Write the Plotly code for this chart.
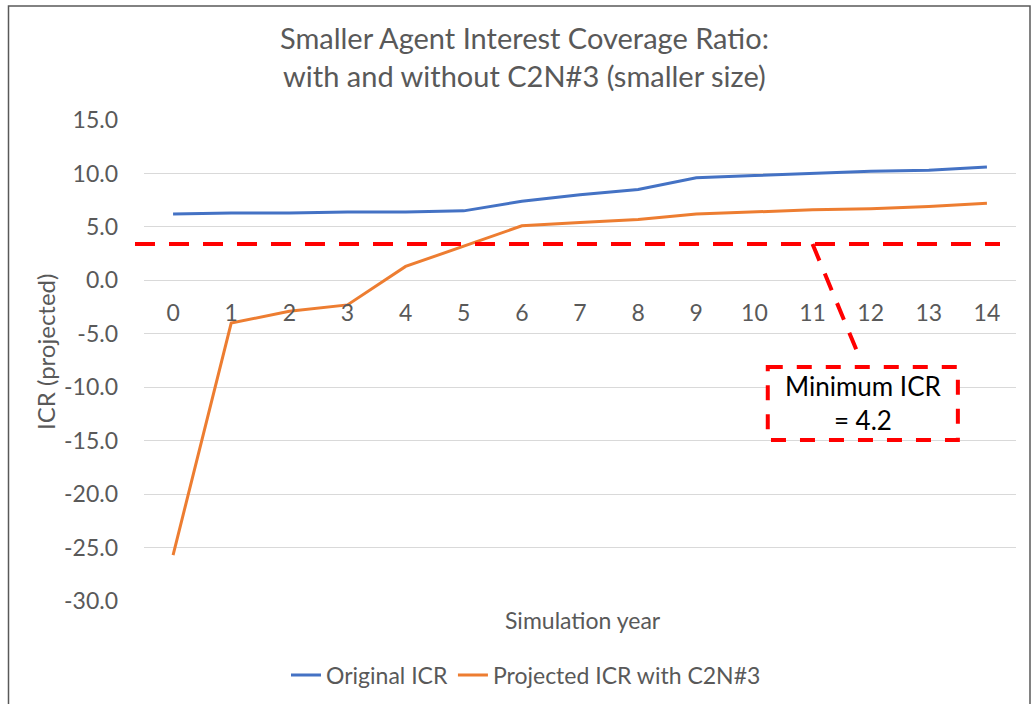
import plotly.graph_objects as go

# simulation years and ICR series
years = list(range(15))
original_icr = [6.2, 6.3, 6.3, 6.4, 6.4, 6.5, 7.4, 8.0, 8.5, 9.6, 9.8, 10.0, 10.2, 10.3, 10.6]
projected_icr = [-25.7, -4.0, -2.9, -2.3, 1.3, 3.2, 5.1, 5.4, 5.7, 6.2, 6.4, 6.6, 6.7, 6.9, 7.2]
y_ticks = [15, 10, 5, 0, -5, -10, -15, -20, -25, -30]
y_tick_text = [f"{v:.1f}" for v in y_ticks]

# hand-drawn threshold marker and callout (positions in data units)
threshold_y = 3.4
callout_text = "Minimum ICR<br>= 4.2"

FONT = "Lato"
GREY = "#595959"
RED = "#FF0000"

# plot area in pixels: left 144, right 1016, top 120, bottom 601
PX_W, PX_H = 872, 481


def px_x(px):
    return (px - 144) / PX_W


def px_y(py):
    return (601 - py) / PX_H


fig = go.Figure()
fig.add_trace(go.Scatter(x=years, y=original_icr, mode="lines", name="Original ICR",
                         line=dict(color="#4472C4", width=3)))
fig.add_trace(go.Scatter(x=years, y=projected_icr, mode="lines", name="Projected ICR with C2N#3",
                         line=dict(color="#ED7D31", width=3)))

# red dashed minimum line
fig.add_shape(type="line", xref="paper", yref="y", x0=px_x(135), x1=px_x(1000),
              y0=threshold_y, y1=threshold_y, line=dict(color=RED, width=4, dash="20px,14px"))
# leader line to the callout box
fig.add_shape(type="line", xref="x", yref="y", x0=11.0, y0=threshold_y, x1=11.8, y1=-7.1,
              line=dict(color=RED, width=4, dash="18px,14px"))
# callout box
fig.add_shape(type="rect", xref="x", yref="y", x0=10.23, x1=13.5, y0=-8.1, y1=-14.93,
              line=dict(color=RED, width=4, dash="15px,14px"), fillcolor="white")
fig.add_annotation(x=11.87, y=-11.5, xref="x", yref="y", text=callout_text, showarrow=False,
                   font=dict(family=FONT, size=26, color="black"), align="center")

# outer chart border
fig.add_shape(type="rect", xref="paper", yref="paper", x0=px_x(8.5), x1=px_x(1030),
              y0=px_y(712), y1=px_y(6), line=dict(color=GREY, width=1.5), layer="below")

# title
fig.add_annotation(x=px_x(524), y=px_y(57), xref="paper", yref="paper", xanchor="center",
                   yanchor="middle", showarrow=False, align="center",
                   text="Smaller Agent Interest Coverage Ratio:<br>with and without C2N#3 (smaller size)",
                   font=dict(family=FONT, size=29, color=GREY))

fig.add_annotation(x=px_x(583), y=px_y(620), xref="paper", yref="paper", text="Simulation year",
                   showarrow=False, yanchor="middle", font=dict(family=FONT, size=23, color=GREY))
fig.add_annotation(x=px_x(45), y=px_y(352), xref="paper", yref="paper", text="ICR (projected)",
                   showarrow=False, textangle=-90, xanchor="center", yanchor="middle",
                   font=dict(family=FONT, size=24, color=GREY))

fig.update_layout(
    width=1034, height=704,
    margin=dict(l=144, r=18, t=120, b=103, autoexpand=False),
    paper_bgcolor="white", plot_bgcolor="white",
    font=dict(family=FONT, color=GREY),
    showlegend=True,
    legend=dict(orientation="h", x=px_x(526), xanchor="center", y=px_y(675), yanchor="middle",
                font=dict(family=FONT, size=23, color=GREY), itemwidth=30),
    xaxis=dict(type="linear", range=[-0.5, 14.5], tickvals=years, ticktext=[str(y) for y in years],
               anchor="free", position=30 / 45, showgrid=False, zeroline=False, showline=False,
               ticks="", ticklabelstandoff=17, tickfont=dict(family=FONT, size=23, color=GREY)),
    yaxis=dict(range=[-30, 15], tickvals=y_ticks, ticktext=y_tick_text, showgrid=True,
               gridcolor="#D9D9D9", gridwidth=1, zeroline=False, showline=False, ticks="",
               ticklabelstandoff=25, tickfont=dict(family=FONT, size=23, color=GREY)),
)

# drop the default body margin so the figure sits at the window's top-left corner
fig.write_html("out.html", config={"displayModeBar": False},
               post_script="document.body.style.margin='0';")
